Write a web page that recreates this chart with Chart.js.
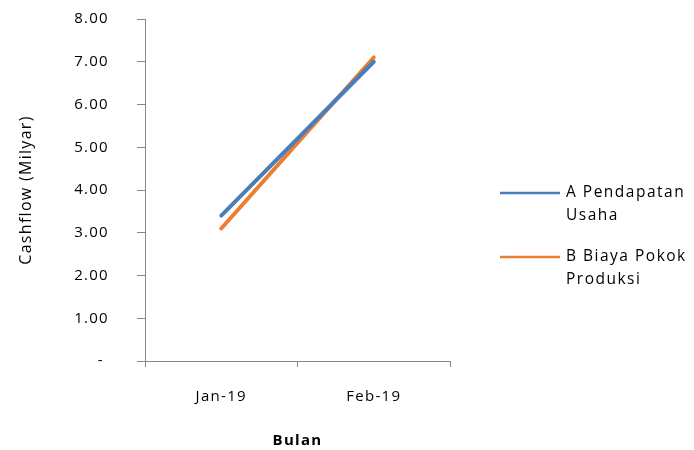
<!DOCTYPE html>
<html>
<head>
<meta charset="utf-8">
<script src="https://cdn.jsdelivr.net/npm/chart.js@4/dist/chart.umd.min.js"></script>
<style>
  html, body { margin: 0; padding: 0; background: #fff; }
  #wrap { width: 694px; height: 450px; position: relative; }
</style>
</head>
<body>
<div id="wrap"><canvas id="c" width="694" height="450"></canvas></div>
<script>
// Monthly cashflow (billion rupiah)
const months = ['Jan-19', 'Feb-19'];
const pendapatanUsaha = [3.40, 7.00];
const biayaPokokProduksi = [3.10, 7.10];
const seriesNames = [['A Pendapatan', 'Usaha'], ['B Biaya Pokok', 'Produksi']];
const seriesColors = ['#4A7EBB', '#ED7D31'];

const FONT = '"Open Sans", Lato, sans-serif';
const AXIS_GREY = '#868686';
const SPACING = '1.3px';

// Slightly open letter spacing for every text on the canvas
const textSpacing = {
  id: 'textSpacing',
  beforeLayout(chart) { chart.ctx.letterSpacing = SPACING; },
  beforeDraw(chart) { chart.ctx.letterSpacing = SPACING; }
};

// Legend drawn beside the plot, with each name split over two lines
const sideLegend = {
  id: 'sideLegend',
  afterDraw(chart) {
    const ctx = chart.ctx;
    const x0 = 500, lineLen = 60, textX = 566;
    const rows = [193, 257];
    ctx.save();
    ctx.letterSpacing = '1.5px';
    chart.data.datasets.forEach((ds, i) => {
      const y = rows[i];
      ctx.strokeStyle = ds.borderColor;
      ctx.lineWidth = 2.5;
      ctx.beginPath();
      ctx.moveTo(x0, y);
      ctx.lineTo(x0 + lineLen, y);
      ctx.stroke();
      ctx.fillStyle = '#000';
      ctx.font = '15.5px ' + FONT;
      ctx.textAlign = 'left';
      ctx.textBaseline = 'middle';
      seriesNames[i].forEach((t, k) => ctx.fillText(t, textX, y + k * 23));
    });
    ctx.restore();
  }
};

new Chart(document.getElementById('c'), {
  type: 'line',
  data: {
    labels: months,
    datasets: [
      { label: seriesNames[0].join(' '), data: pendapatanUsaha, borderColor: seriesColors[0],
        backgroundColor: seriesColors[0], borderWidth: 4, pointRadius: 0, borderCapStyle: 'round', tension: 0 },
      { label: seriesNames[1].join(' '), data: biayaPokokProduksi, borderColor: seriesColors[1],
        backgroundColor: seriesColors[1], borderWidth: 4, pointRadius: 0, borderCapStyle: 'round', tension: 0 }
    ]
  },
  options: {
    responsive: false,
    animation: false,
    layout: { padding: { top: 19, right: 244, bottom: 0, left: 0 } },
    plugins: { legend: { display: false }, tooltip: { enabled: false } },
    scales: {
      x: {
        type: 'category',
        offset: true,
        border: { color: AXIS_GREY, width: 1 },
        grid: { offset: true, drawOnChartArea: false, drawTicks: true, tickLength: 6, color: AXIS_GREY },
        ticks: { color: '#000', font: { family: FONT, size: 15 }, padding: 21 },
        title: { display: true, text: 'Bulan', color: '#000', font: { family: FONT, size: 15, weight: 'bold' }, padding: { top: 28, bottom: 0 } },
        afterFit(s) { s.height = 89; }
      },
      y: {
        min: 0, max: 8,
        border: { color: AXIS_GREY, width: 1 },
        grid: { drawOnChartArea: false, drawTicks: true, tickLength: 8, color: AXIS_GREY },
        ticks: {
          stepSize: 1, color: '#000', font: { family: FONT, size: 15 }, padding: 28,
          callback: v => v === 0 ? '- ' : v.toFixed(2)
        },
        title: { display: true, text: 'Cashflow (Milyar)', color: '#000', font: { family: FONT, size: 16 }, padding: { top: 17 } },
        afterFit(s) { s.width = 145; s.paddingTop = 0; s.paddingBottom = 0; }
      }
    }
  },
  plugins: [textSpacing, sideLegend]
});
</script>
</body>
</html>
